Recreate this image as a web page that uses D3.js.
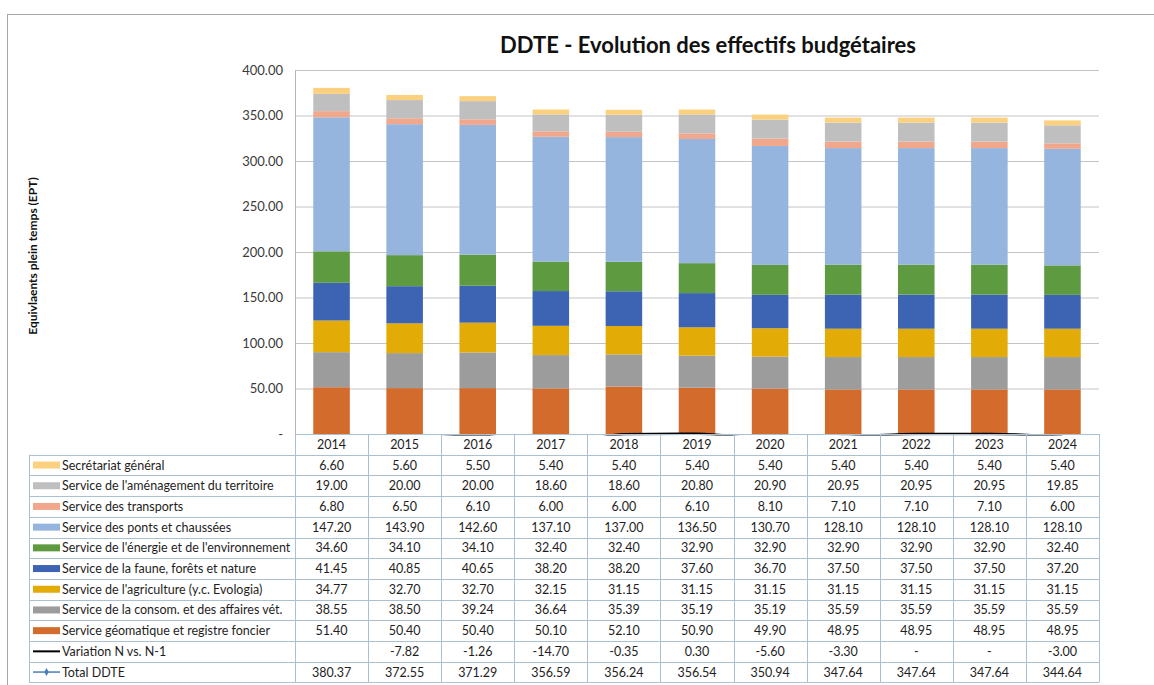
<!DOCTYPE html>
<html lang="fr">
<head>
  <meta charset="UTF-8">
  <title>DDTE - Evolution des effectifs budgétaires</title>
  <style>
    body { margin: 0; background: #fff; }
    svg { display: block; font-family: Lato, "Open Sans", sans-serif; }
  </style>
</head>
<body>
  <div id="chart"></div>
  <script src="https://d3js.org/d3.v7.min.js"></script>
  <script>
    // données lues du tableau
    const years = ["2014","2015","2016","2017","2018","2019","2020","2021","2022","2023","2024"];
    const secretariat = [6.60,5.60,5.50,5.40,5.40,5.40,5.40,5.40,5.40,5.40,5.40];
    const amenagement = [19.00,20.00,20.00,18.60,18.60,20.80,20.90,20.95,20.95,20.95,19.85];
    const transports  = [6.80,6.50,6.10,6.00,6.00,6.10,8.10,7.10,7.10,7.10,6.00];
    const ponts       = [147.20,143.90,142.60,137.10,137.00,136.50,130.70,128.10,128.10,128.10,128.10];
    const energie     = [34.60,34.10,34.10,32.40,32.40,32.90,32.90,32.90,32.90,32.90,32.40];
    const faune       = [41.45,40.85,40.65,38.20,38.20,37.60,36.70,37.50,37.50,37.50,37.20];
    const agriculture = [34.77,32.70,32.70,32.15,31.15,31.15,31.15,31.15,31.15,31.15,31.15];
    const consom      = [38.55,38.50,39.24,36.64,35.39,35.19,35.19,35.59,35.59,35.59,35.59];
    const geomatique  = [51.40,50.40,50.40,50.10,52.10,50.90,49.90,48.95,48.95,48.95,48.95];
    const variation   = [null,-7.82,-1.26,-14.70,-0.35,0.30,-5.60,-3.30,0,0,-3.00];
    const totalDDTE   = [380.37,372.55,371.29,356.59,356.24,356.54,350.94,347.64,347.64,347.64,344.64];
    const yTicks = [0,50,100,150,200,250,300,350,400];

    // séries empilées, du bas vers le haut
    const series = [
      { key: "geomatique",  label: "Service géomatique et registre foncier",          values: geomatique,  color: "#D26B2B" },
      { key: "consom",      label: "Service de la consom. et des affaires vét.",      values: consom,      color: "#9C9C9C" },
      { key: "agriculture", label: "Service de l'agriculture (y.c. Evologia)",        values: agriculture, color: "#E3AB05" },
      { key: "faune",       label: "Service de la faune, forêts et nature",           values: faune,       color: "#3D64B2" },
      { key: "energie",     label: "Service de l'énergie et de l'environnement",      values: energie,     color: "#5D9A40" },
      { key: "ponts",       label: "Service des ponts et chaussées",                  values: ponts,       color: "#95B5DE" },
      { key: "transports",  label: "Service des transports",                          values: transports,  color: "#F0A78B" },
      { key: "amenagement", label: "Service de l'aménagement du territoire",          values: amenagement, color: "#BFBFBF" },
      { key: "secretariat", label: "Secrétariat général",                             values: secretariat, color: "#FBD17F" }
    ];

    const width = 1154, height = 685;
    const plot = { left: 295, right: 1099, top: 70, bottom: 434 };
    const tableLeft = 29, rowH = 20.7;

    // format avec un tiret simple pour les négatifs
    const fmt = d3.formatLocale({ decimal: ".", thousands: ",", grouping: [3], currency: ["", ""], minus: "-" }).format(".2f");

    const svg = d3.select("#chart").append("svg")
      .attr("width", width).attr("height", height);

    // cadre
    svg.append("rect")
      .attr("x", 7.5).attr("y", 14.5).attr("width", 1200).attr("height", 700)
      .attr("fill", "none").attr("stroke", "#A6A6A6");

    svg.append("text")
      .attr("x", 708).attr("y", 53)
      .attr("text-anchor", "middle")
      .attr("font-size", 22).attr("font-weight", "bold").attr("fill", "#111")
      .text("DDTE - Evolution des effectifs budgétaires");

    svg.append("text")
      .attr("transform", "translate(37,256) rotate(-90)")
      .attr("text-anchor", "middle")
      .attr("font-size", 12).attr("font-weight", "bold").attr("fill", "#111")
      .text("Equivlaents plein temps (EPT)");

    const x = d3.scaleBand().domain(years)
      .range([plot.left, plot.right])
      .paddingInner(0.5).paddingOuter(0.25);
    const step = x.step();
    const colX = d => x(d) - x.paddingOuter() * step; // bord gauche de la colonne du tableau

    const y = d3.scaleLinear().domain([0, 400]).range([plot.bottom, plot.top]);

    // grille + étiquettes
    const yAxis = d3.axisLeft(y).tickValues(yTicks)
      .tickSize(-(plot.right - plot.left)).tickPadding(12)
      .tickFormat(d => d === 0 ? "-" : fmt(d));
    const ga = svg.append("g").attr("transform", `translate(${plot.left},0)`).call(yAxis);
    ga.select(".domain").remove();
    ga.selectAll(".tick line").attr("stroke", "#C4C4C4");
    ga.selectAll(".tick text").attr("font-size", 13).attr("fill", "#3A3A3A")
      .attr("font-family", "Lato, sans-serif");
    svg.append("line")
      .attr("x1", plot.left + 0.5).attr("x2", plot.left + 0.5)
      .attr("y1", plot.top).attr("y2", plot.bottom)
      .attr("stroke", "#B5B5B5");

    // barres empilées
    const rows = years.map((yr, i) => {
      const r = { year: yr };
      series.forEach(s => r[s.key] = s.values[i]);
      return r;
    });
    const stacked = d3.stack().keys(series.map(s => s.key))(rows);
    svg.append("g").selectAll("g")
      .data(stacked).join("g")
      .attr("fill", (d, i) => series[i].color)
      .selectAll("rect")
      .data(d => d).join("rect")
      .attr("x", d => x(d.data.year))
      .attr("width", x.bandwidth())
      .attr("y", d => y(d[1]))
      .attr("height", d => y(d[0]) - y(d[1]));

    // ligne de variation (masquée sous la zone du graphique)
    svg.append("clipPath").attr("id", "clip")
      .append("rect").attr("x", plot.left).attr("y", plot.top)
      .attr("width", plot.right - plot.left).attr("height", plot.bottom - plot.top + 1.5);
    const varLine = d3.line()
      .defined(d => d.v !== null)
      .x(d => x(d.year) + x.bandwidth() / 2)
      .y(d => y(d.v))
      .curve(d3.curveMonotoneX);
    svg.append("path")
      .datum(years.map((yr, i) => ({ year: yr, v: variation[i] })))
      .attr("clip-path", "url(#clip)")
      .attr("fill", "none").attr("stroke", "#000").attr("stroke-width", 2.5)
      .attr("d", varLine);

    // tableau de données
    const tableRows = series.slice().reverse().map(s => ({
      label: s.label, color: s.color, kind: "bar",
      cells: s.values.map(v => fmt(v))
    }));
    tableRows.push({ label: "Variation N vs. N-1", color: "#000", kind: "line",
      cells: variation.map(v => v === null ? "" : (v === 0 ? "-" : fmt(v))) });
    tableRows.push({ label: "Total DDTE", color: "#4A7EBB", kind: "marker",
      cells: totalDDTE.map(v => fmt(v)) });

    const tb = svg.append("g").attr("font-size", 12.5).attr("fill", "#1E1E1E");
    const gridColor = "#A9C1D3";

    // en-tête des années
    years.forEach(yr => {
      tb.append("text")
        .attr("x", colX(yr) + step / 2).attr("y", plot.bottom + rowH / 2 + 4.5)
        .attr("text-anchor", "middle").text(yr);
    });

    tableRows.forEach((r, j) => {
      const top = plot.bottom + rowH * (j + 1);
      const cy = top + rowH / 2;
      if (r.kind === "bar") {
        tb.append("rect").attr("x", 33).attr("y", cy - 3.5).attr("width", 27).attr("height", 7)
          .attr("fill", r.color);
      } else {
        tb.append("line").attr("x1", 33).attr("x2", 60).attr("y1", cy).attr("y2", cy)
          .attr("stroke", r.color).attr("stroke-width", r.kind === "line" ? 2 : 1.5);
        if (r.kind === "marker") {
          tb.append("path").attr("d", d3.symbol(d3.symbolDiamond, 18)())
            .attr("transform", `translate(46.5,${cy})`).attr("fill", r.color);
        }
      }
      tb.append("text").attr("x", 62).attr("y", cy + 4.5).text(r.label);
      r.cells.forEach((c, i) => {
        tb.append("text")
          .attr("x", colX(years[i]) + step / 2).attr("y", cy + 4.5)
          .attr("text-anchor", "middle").text(c);
      });
    });

    // lignes du tableau
    const nRows = tableRows.length;
    const tableBottom = plot.bottom + rowH * (nRows + 1);
    const lines = svg.append("g").attr("stroke", gridColor).attr("stroke-width", 1);
    lines.append("line").attr("x1", plot.left).attr("x2", plot.right)
      .attr("y1", plot.bottom + 0.5).attr("y2", plot.bottom + 0.5);
    d3.range(1, nRows + 2).forEach(k => {
      const yy = Math.round(plot.bottom + rowH * k) + 0.5;
      lines.append("line").attr("x1", tableLeft).attr("x2", plot.right)
        .attr("y1", yy).attr("y2", yy);
    });
    lines.append("line").attr("x1", tableLeft + 0.5).attr("x2", tableLeft + 0.5)
      .attr("y1", plot.bottom + rowH).attr("y2", tableBottom);
    years.forEach(yr => {
      const xx = Math.round(colX(yr)) + 0.5;
      lines.append("line").attr("x1", xx).attr("x2", xx)
        .attr("y1", plot.bottom).attr("y2", tableBottom);
    });
    lines.append("line").attr("x1", plot.right + 0.5).attr("x2", plot.right + 0.5)
      .attr("y1", plot.bottom).attr("y2", tableBottom);
  </script>
</body>
</html>
